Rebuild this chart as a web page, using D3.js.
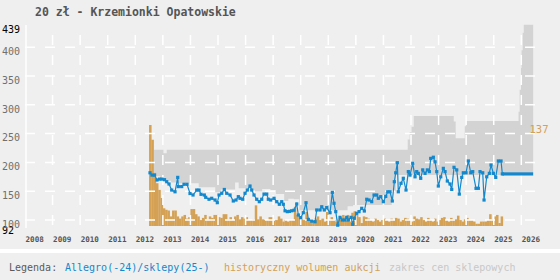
<!DOCTYPE html>
<html><head><meta charset="utf-8">
<script src="https://cdn.jsdelivr.net/npm/d3@7"></script>
<style>
html,body{margin:0;padding:0;background:#efefef;}
svg{display:block;}
</style></head><body>
<svg id="c" width="560" height="280"></svg>
<script>
// ---------- data ----------
const title = "20 zł - Krzemionki Opatowskie";
const yearTicks = d3.range(2008, 2027);
const priceTicks = [92, 100, 150, 200, 250, 300, 350, 400, 439];
const gridValues = [100, 150, 200, 250, 300, 350, 400];

const allegroDates = [2012.534,2012.606,2012.697,2012.788,2012.878,2012.969,2013.060,2013.140,2013.223,2013.321,2013.441,2013.539,2013.560,2013.684,2013.767,2013.876,2013.985,2014.094,2014.228,2014.311,2014.384,2014.503,2014.554,2014.674,2014.772,2014.892,2014.975,2015.037,2015.135,2015.229,2015.316,2015.436,2015.555,2015.653,2015.737,2015.798,2015.896,2015.980,2016.063,2016.161,2016.223,2016.306,2016.404,2016.498,2016.585,2016.669,2016.767,2016.825,2016.912,2017.032,2017.130,2017.224,2017.311,2017.369,2017.431,2017.514,2017.590,2017.674,2017.757,2017.855,2017.913,2018.000,2018.094,2018.192,2018.276,2018.399,2018.519,2018.580,2018.700,2018.762,2018.856,2018.943,2019.063,2019.146,2019.208,2019.270,2019.342,2019.425,2019.509,2019.607,2019.668,2019.727,2019.825,2019.886,2019.944,2020.031,2020.115,2020.213,2020.307,2020.394,2020.477,2020.575,2020.659,2020.757,2020.815,2020.902,2020.996,2021.083,2021.156,2021.239,2021.322,2021.395,2021.446,2021.504,2021.540,2021.638,2021.721,2021.819,2021.903,2021.964,2022.062,2022.146,2022.207,2022.265,2022.352,2022.425,2022.509,2022.592,2022.665,2022.715,2022.810,2022.871,2022.933,2022.991,2023.078,2023.172,2023.234,2023.317,2023.415,2023.477,2023.560,2023.658,2023.752,2023.839,2023.897,2023.995,2024.079,2024.166,2024.238,2024.358,2024.442,2024.503,2024.601,2024.649,2024.746,2024.841,2024.902,2024.986,2025.073,2025.167,2025.265,2025.312];
const allegroPrices = [182,178,178,169.5,171,171,170,166.5,162.5,152,149,174,158,158,162,162,146,143.4,152,152,144.6,143.4,139.4,136,137.7,134.7,130,143.4,146.4,153,146.4,143.4,133,134.7,140.5,137.7,136,146.4,152,159,152,143.4,136,131.8,136,145,145,136,134.7,137.7,131.8,127.3,131.8,127.3,116,114.5,115,116,117,127.8,108.7,104,112.7,130,101,98,97,117.4,117.4,123,117.4,121.5,112.7,148,129,114.5,91,104.6,100,100,104.6,100,104.6,92.5,103,111.6,114.5,120.3,115.6,136,134.7,131.8,143.4,143.4,137.7,140.5,131.8,141,149,149,133,166.5,182,199.5,149,163.7,172.4,152,184,178,198.5,175,184,181,172.4,187,181,187,184,207,209,201,184,159,175,189.7,184,167.7,162.5,153,191.5,187,145,174,182,182,202.5,182,184,155,155,184,182,134.7,175,181,195.5,181,174,202.5,202.5,180];

const shopDates = [2025.312, 2026.43];
const shopPrices = [180, 180];

const bandDates = [2012.68,2012.90,2013.02,2013.14,2013.30,2013.50,2014.30,2014.90,2015.10,2015.62,2015.75,2016.20,2016.60,2016.90,2017.10,2017.40,2017.55,2017.75,2017.95,2019.70,2019.90,2021.30,2021.45,2021.88,2021.95,2022.02,2022.10,2023.55,2023.62,2023.95,2024.00,2025.31,2025.90,2025.94,2025.99,2026.01,2026.05,2026.09,2026.43];
const bandHigh = [222,222,216,222,222,222,222,222,222,222,222,222,222,222,222,222,222,222,222,222,222,222,222,240,253,262,280.6,271,242,263,272,272,288,326,364,395,425,439,439];
const bandLow  = [176,172,170,168,165,164,157,148,153,165,155,150,154,152,145,133,137,136,117,124,126,150,178,178,178,178,178,178,178,178,178,180,180,180,180,180,180,180,180];

const volumeStart = 2012.5; // monthly bars
const volumes = [137,117,72,58,49,38,24,22,21,13,21,21,13,10,13,15,10,12,23,23,16,13,8,11,15,9,13,11,15,15,12,11,16,16,9,12,8,13,15,9,12,10,12,8,8,9,28,9,13,9,8,8,12,12,8,8,13,10,6,8,6,8,8,26,15,13,9,8,19,8,6,8,10,13,8,10,6,19,8,12,8,6,10,12,15,12,15,6,18,20,15,12,4,13,12,10,8,6,10,8,6,8,10,8,6,10,8,11,10,6,8,11,10,8,6,13,10,9,12,8,6,11,8,6,10,6,8,11,12,8,6,11,9,9,14,8,6,9,11,8,8,6,3,3,6,6,6,8,16,9,13,15,4,13];
const volumeMax = 137;

const legendLabels = ["Legenda:", "Allegro(-24)/sklepy(25-)", "historyczny wolumen aukcji", "zakres cen sklepowych"];
const legendColors = ["#5a5a5a", "#1488cc", "#d4a155", "#c8c8c8"];
const legendX = [9, 65, 224, 389];

// ---------- drawing ----------
const svg = d3.select("#c");
const MONO = "'DejaVu Sans Mono', monospace";
const x = d3.scaleLinear().domain([2008, 2026]).range([25, 521.3]);
const y = d3.scaleLinear().domain([92, 439]).range([224.6, 24.8]);
const yv = d3.scaleLinear().domain([0, volumeMax]).range([226, 125]);

svg.append("rect").attr("width", 560).attr("height", 280).attr("fill", "#efefef");
svg.append("rect").attr("x", 0).attr("y", 249).attr("width", 560).attr("height", 4).attr("fill", "#ffffff");

// band
const bandData = bandDates.map((d, i) => ({d, hi: bandHigh[i], lo: bandLow[i]}));
svg.append("path").datum(bandData)
  .attr("fill", "#d3d3d3")
  .attr("d", d3.area().curve(d3.curveStepAfter)
    .x(p => x(p.d)).y0(p => y(p.lo)).y1(p => y(p.hi)));

// volume bars
svg.append("g").selectAll("rect").data(volumes).join("rect")
  .attr("x", (v, i) => x(volumeStart + i / 12))
  .attr("width", (v, i) => x(volumeStart + (i + 1) / 12) - x(volumeStart + i / 12) + 0.2)
  .attr("y", v => yv(v))
  .attr("height", v => yv(0) - yv(v))
  .attr("fill", "#d4a155");

// grid
const grid = svg.append("g").attr("stroke", "#ffffff").attr("stroke-width", 1.5).attr("stroke-dasharray", "10,10");
grid.selectAll("line.h").data(gridValues).join("line").attr("class", "h")
  .attr("x1", 25).attr("x2", 536).attr("y1", d => y(d)).attr("y2", d => y(d));
grid.selectAll("line.v").data(yearTicks.slice(1)).join("line").attr("class", "v")
  .attr("x1", d => x(d)).attr("x2", d => x(d)).attr("y1", 35).attr("y2", 230);
svg.append("line").attr("x1", 26).attr("x2", 26).attr("y1", 25).attr("y2", 228)
  .attr("stroke", "#ffffff").attr("stroke-width", 1.5);

// axes
const yAxis = svg.append("g").attr("transform", "translate(26,0)")
  .call(d3.axisLeft(y).tickValues(priceTicks).tickSize(0).tickFormat(d3.format("d")));
yAxis.select(".domain").remove();
yAxis.selectAll("text")
  .attr("x", -24).attr("dy", d => d === 92 ? "0.86em" : "0.72em").attr("text-anchor", "start")
  .attr("font-family", MONO).attr("font-size", 10)
  .attr("fill", d => (d === 92 || d === 439) ? "#000000" : "#707070");

const xAxis = svg.append("g").attr("transform", "translate(0,226)")
  .call(d3.axisBottom(x).tickValues(yearTicks).tickSize(0).tickFormat(d3.format("d")));
xAxis.select(".domain").remove();
xAxis.selectAll("text")
  .attr("y", 16).attr("dy", 0).attr("text-anchor", "start")
  .attr("font-family", MONO).attr("font-size", 7.6).attr("font-weight", "bold")
  .attr("fill", "#555555");

// allegro line
const aData = allegroDates.map((d, i) => ({d, v: allegroPrices[i]}));
svg.append("path").datum(aData)
  .attr("fill", "none").attr("stroke", "#1488cc").attr("stroke-width", 1.2)
  .attr("d", d3.line().x(p => x(p.d)).y(p => y(p.v)));
svg.append("g").selectAll("rect").data(aData).join("rect")
  .attr("x", p => x(p.d) - 1.6).attr("y", p => y(p.v) - 1.6)
  .attr("width", 3.2).attr("height", 3.2).attr("fill", "#1488cc");

// shop line
const sData = shopDates.map((d, i) => ({d, v: shopPrices[i]}));
svg.append("path").datum(sData)
  .attr("fill", "none").attr("stroke", "#1488cc").attr("stroke-width", 3.2)
  .attr("d", d3.line().x(p => x(p.d)).y(p => y(p.v)));

// max volume label
svg.append("text").attr("x", 529.5).attr("y", yv(volumeMax) + 8)
  .attr("font-family", MONO).attr("font-size", 10.5).attr("fill", "#d4a155")
  .text(d3.max(volumes));

// title
svg.append("text").attr("x", 35).attr("y", 16)
  .attr("font-family", MONO).attr("font-size", 11.5).attr("font-weight", "bold")
  .attr("fill", "#555555").text(title);

// legend
svg.append("g").selectAll("text").data(legendLabels).join("text")
  .attr("x", (d, i) => legendX[i]).attr("y", 270.5)
  .attr("font-family", MONO).attr("font-size", 10)
  .attr("fill", (d, i) => legendColors[i]).text(d => d);
</script>
</body></html>
